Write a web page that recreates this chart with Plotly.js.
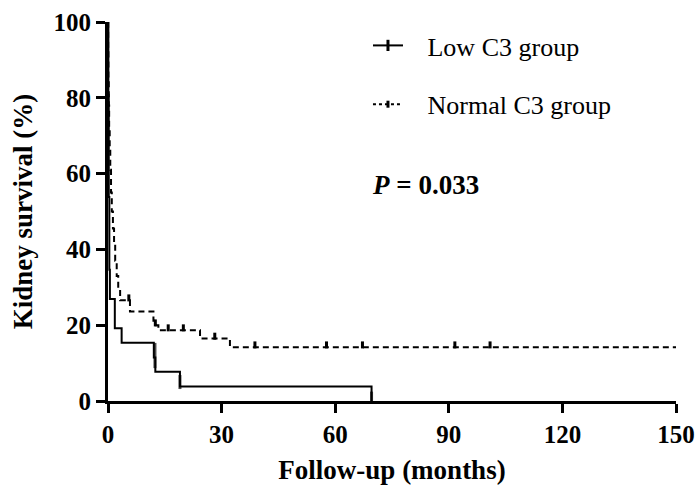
<!DOCTYPE html>
<html>
<head>
<meta charset="utf-8">
<script src="https://cdn.plot.ly/plotly-3.0.1.min.js"></script>
<style>html,body{margin:0;padding:0;background:#fff;}#chart{width:695px;height:492px;}</style>
</head>
<body>
<div id="chart"></div>
<script>
// Kaplan-Meier step data (months, % surviving)
var lowTime = [0, 0.1, 0.2, 0.35, 0.5, 1.8, 3.6, 12.1, 12.5, 19.0, 69.6];
var lowSurv = [100, 80.8, 53.8, 34.6, 26.9, 19.2, 15.4, 11.5, 7.7, 3.8, 0];
var lowCensTime = [12.4, 19.0, 69.6];
var lowCensSurv = [12, 5, 1];

var normTime = [0, 0.05, 0.1, 0.2, 0.3, 0.45, 0.6, 0.8, 1.0, 1.3, 1.6, 1.9, 2.3, 2.7, 3.2, 5.8, 12.0, 12.7, 13.3, 24.3, 32.2, 150];
var normSurv = [100, 92, 85, 78, 72, 66, 61, 55, 50, 45.5, 41.5, 37, 33, 29.5, 26.6, 23.6, 21.2, 20, 18.7, 16.5, 14.2, 14.2];
var normCensTime = [5.5, 12.5, 15.9, 19.9, 28.2, 38.8, 57.7, 67.2, 91.6, 100.9];
var normCensSurv = [26.6, 20, 18.7, 18.7, 16.5, 14.2, 14.2, 14.2, 14.2, 14.2];

var groupNames = ["Low C3 group", "Normal C3 group"];
var xTicks = [0, 30, 60, 90, 120, 150];
var yTicks = [0, 20, 40, 60, 80, 100];
var pText = "<b><i>P</i> = 0.033</b>";

var F = "Liberation Serif, Times New Roman, serif";
var pad = "\u00a0\u00a0\u00a0";

var traces = [
  {x: lowTime, y: lowSurv, mode: "lines", line: {shape: "hv", color: "#000", width: 2}, showlegend: false, hoverinfo: "skip", cliponaxis: false},
  {x: lowCensTime, y: lowCensSurv, mode: "markers", marker: {symbol: "line-ns", size: [18, 10, 8], line: {color: "#000", width: 3}}, showlegend: false, cliponaxis: false},
  {x: normTime, y: normSurv, mode: "lines", line: {shape: "hv", color: "#000", width: 2, dash: "6px,4px"}, showlegend: false, hoverinfo: "skip", cliponaxis: false},
  {x: normCensTime, y: normCensSurv.map(function(v){return v + 0.6;}), mode: "markers", marker: {symbol: "line-ns", size: 5, line: {color: "#000", width: 3}}, showlegend: false, cliponaxis: false},
  // legend entries
  {x: [null], y: [null], mode: "lines+markers", name: pad + groupNames[0], legendgroup: "a", line: {color: "#000", width: 2}, marker: {symbol: "line-ns", size: 8, line: {color: "#000", width: 3}}},
  {x: [null], y: [null], mode: "lines+markers", name: pad + groupNames[1], legendgroup: "b", line: {color: "#000", width: 2, dash: "3px,3px"}, marker: {symbol: "line-ns", size: 5, line: {color: "#000", width: 3}}}
];

var layout = {
  width: 695, height: 492,
  margin: {l: 108, r: 19, t: 22, b: 91},
  paper_bgcolor: "#fff", plot_bgcolor: "#fff",
  font: {family: F, color: "#000"},
  xaxis: {
    range: [0, 150], tickvals: xTicks, ticktext: xTicks.map(String),
    showgrid: false, zeroline: false, showline: true, linecolor: "#000", linewidth: 3,
    ticks: "outside", ticklen: 9, tickwidth: 3, tickcolor: "#000",
    tickfont: {family: F, size: 25, color: "#000", weight: "bold"},
    title: {text: "<b>Follow-up (months)</b>", font: {family: F, size: 27, color: "#000"}, standoff: 14}
  },
  yaxis: {
    range: [0, 100], tickvals: yTicks, ticktext: yTicks.map(String),
    showgrid: false, zeroline: false, showline: true, linecolor: "#000", linewidth: 3,
    ticks: "outside", ticklen: 9, tickwidth: 3, tickcolor: "#000",
    tickfont: {family: F, size: 25, color: "#000", weight: "bold"},
    title: {text: "<b>Kidney survival (%)</b>", font: {family: F, size: 27, color: "#000"}, standoff: 14}
  },
  legend: {
    x: 0.4577, y: 1.0, xanchor: "left", yanchor: "top",
    bgcolor: "rgba(0,0,0,0)", borderwidth: 0,
    font: {family: F, size: 26, color: "#000"},
    traceorder: "grouped", tracegroupgap: 22
  },
  annotations: [{
    xref: "paper", yref: "paper", x: 0.461, y: 0.57, xanchor: "left", yanchor: "middle",
    text: pText, showarrow: false, font: {family: F, size: 27, color: "#000"}
  }],
  showlegend: true
};

Plotly.newPlot("chart", traces, layout, {displayModeBar: false, staticPlot: true});
</script>
</body>
</html>
